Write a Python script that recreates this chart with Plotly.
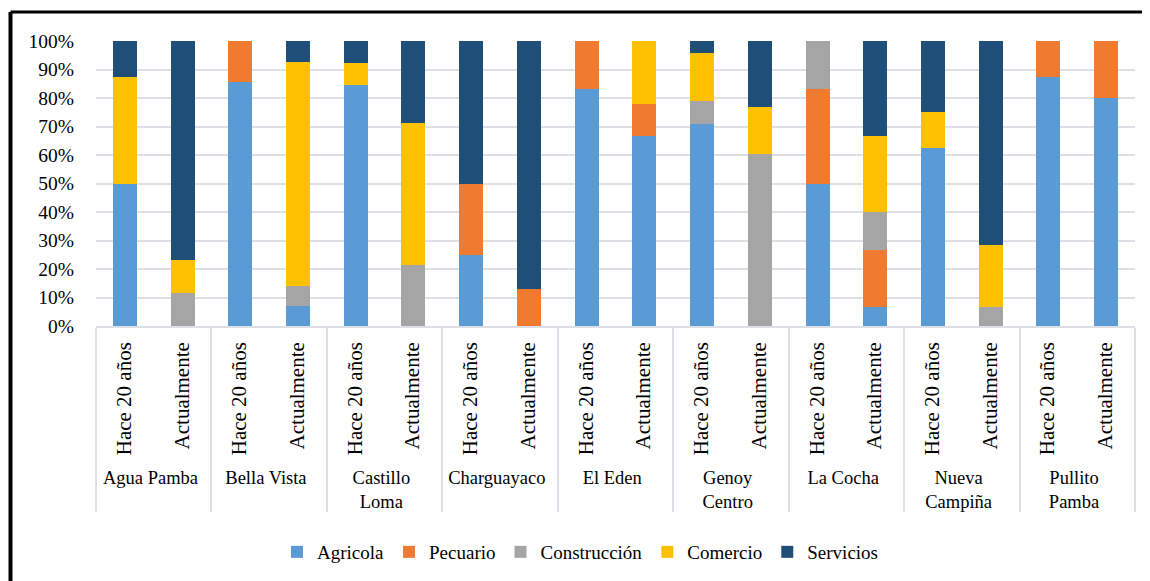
import plotly.graph_objects as go

groups = ["Agua Pamba", "Bella Vista", "Castillo<br>Loma", "Charguayaco", "El Eden",
          "Genoy<br>Centro", "La Cocha", "Nueva<br>Campiña", "Pullito<br>Pamba"]
periods = ["Hace 20 años", "Actualmente"]

agricola     = [50, 0,    85.7, 7.1,  84.6, 0,    25, 0,  83.3, 66.7, 70.8, 0,    50,   6.7,  62.5, 0,    87.5, 80]
pecuario     = [0, 0,     14.3, 0,    0, 0,       25, 13, 16.7, 11.1, 0, 0,       33.3, 20,   0, 0,       12.5, 20]
construccion = [0, 11.5,  0, 7.1,     0, 21.4,    0, 0,   0, 0,       8.3, 60.5,  16.7, 13.3, 0, 6.7,     0, 0]
comercio     = [37.5, 11.5, 0, 78.6,  7.7, 50,    0, 0,   0, 22.2,    16.7, 16.3, 0, 26.7,    12.5, 21.7, 0, 0]
servicios    = [12.5, 77, 0, 7.2,     7.7, 28.6,  50, 87, 0, 0,       4.2, 23.2,  0, 33.3,    25, 71.6,   0, 0]

series = [
    ("Agricola", agricola, "#5B9BD5"),
    ("Pecuario", pecuario, "#EE7B30"),
    ("Construcción", construccion, "#A5A5A5"),
    ("Comercio", comercio, "#FFC000"),
    ("Servicios", servicios, "#1F4E79"),
]

outer = [g for g in groups for _ in periods]
inner = ['<span style="font-size:21px">%s</span>' % p for _ in groups for p in periods]

FONT = "Liberation Serif, Times New Roman, serif"

fig = go.Figure()
for name, vals, color in series:
    fig.add_trace(go.Bar(
        x=[outer, inner], y=vals, name=name,
        marker=dict(color=color, line=dict(width=0)),
    ))

# page body has an 8px margin: figure origin sits at (8, 8) in the window
OFF = 8
W, H = 1150 - OFF, 581 - OFF
L, R, T, B = 96 - OFF, 15, 41 - OFF, 255
pw, ph = W - L - R, H - T - B
def px(xp): return (xp - OFF - L) / pw
def py(yp): return (H - B - (yp - OFF)) / ph

fig.update_layout(
    barmode="stack",
    bargap=0.585,
    width=W, height=H,
    margin=dict(l=L, r=R, t=T, b=B, autoexpand=False),
    paper_bgcolor="white", plot_bgcolor="white",
    font=dict(family=FONT, size=18.5, color="#000000"),
    showlegend=True,
    legend=dict(orientation="h", x=px(580), xanchor="center", y=py(552), yanchor="middle",
                font=dict(family=FONT, size=19), traceorder="normal",
                itemwidth=30, tracegroupgap=0),
    shapes=[
        dict(type="line", xref="paper", yref="paper", x0=px(10.5), x1=px(1160), y0=py(12), y1=py(12),
             line=dict(color="black", width=3)),
        dict(type="line", xref="paper", yref="paper", x0=px(10.5), x1=px(10.5), y0=py(12), y1=py(600),
             line=dict(color="black", width=4)),
    ],
)
fig.update_yaxes(range=[0, 100], dtick=10, ticksuffix="%", showgrid=True, automargin=False,
                 gridcolor="#DDE1E6", gridwidth=1.5, zeroline=False, showline=False,
                 ticklabelstandoff=21, tickfont=dict(family=FONT, size=19.5))
fig.update_xaxes(type="multicategory", tickangle=-90, showline=True, linecolor="#DDE1E6",
                 linewidth=1.5, showdividers=True, dividercolor="#DDE1E6", dividerwidth=1.5,
                 automargin=False, tickfont=dict(family=FONT, size=18.5),
                 ticks="", ticklabelstandoff=7)

fig.write_html("out.html")
